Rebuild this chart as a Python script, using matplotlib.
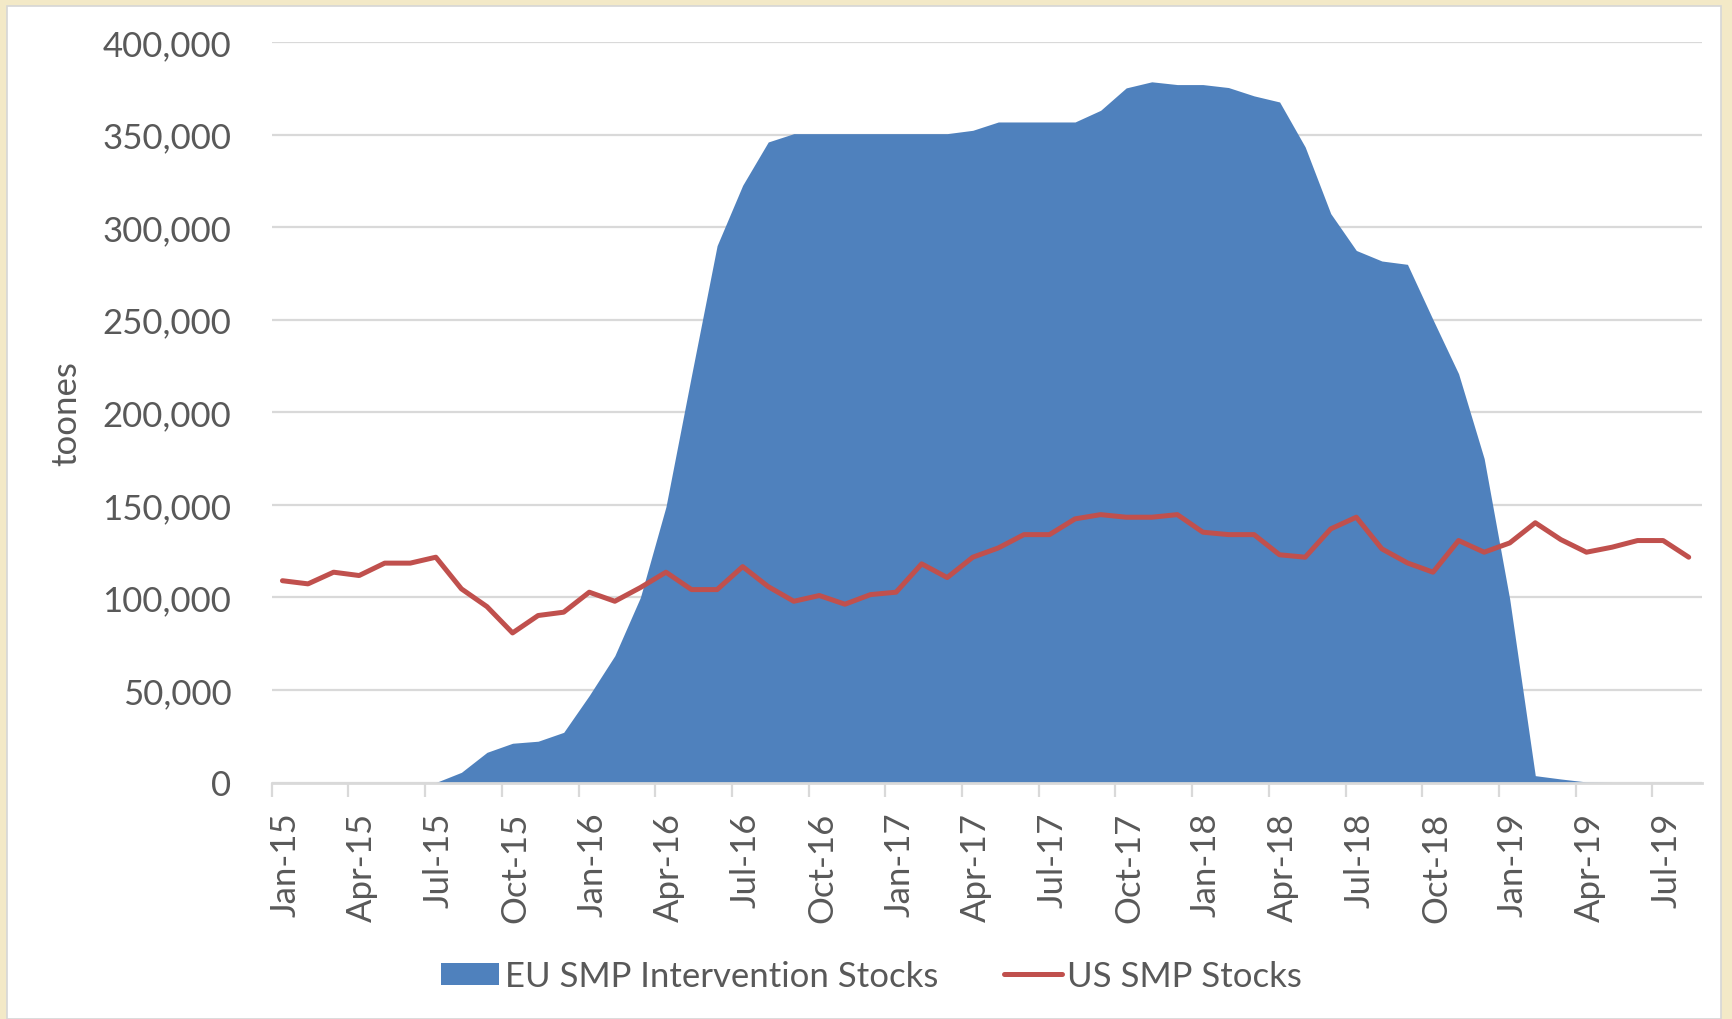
import matplotlib
matplotlib.use("Agg")
import matplotlib.pyplot as plt
from matplotlib.patches import Rectangle
from matplotlib.ticker import FuncFormatter, FixedLocator
import numpy as np

# ---- data ----
eu_stocks = [0, 0, 0, 0, 0, 0,
             0, 5500, 16300, 21200, 22300, 27100, 47000, 68500, 100000,
             149000, 220000, 290000, 322600, 346000, 350500,
             350500, 350500, 350500, 350500, 350500, 350500,
             352300, 356800, 356800, 356800, 356800,
             363100, 375200, 378500, 377000, 377000, 375400, 370900, 367600,
             343300, 307300, 287400, 281700, 279900, 250000, 220800, 175000,
             99000, 3700, 1900, 300,
             0, 0, 0, 0]
us_stocks = [109000, 107300, 113600, 111800, 118500, 118500, 121700, 104600,
             95000, 80800, 90200, 92000, 102800, 97900, 105300, 113600,
             104200, 104200, 116600, 105800, 97900, 101000, 96300, 101500,
             102800, 118100, 110700, 121700, 126700, 133900, 133900, 142400,
             144700, 143300, 143300, 144700, 135200, 133900, 133900, 123000,
             121700, 137000, 143300, 126200, 118600, 113600, 130700, 124400,
             129400, 140300, 131200, 124400, 127100, 130700, 130700, 121700]
tick_labels = ['Jan-15', 'Apr-15', 'Jul-15', 'Oct-15',
               'Jan-16', 'Apr-16', 'Jul-16', 'Oct-16',
               'Jan-17', 'Apr-17', 'Jul-17', 'Oct-17',
               'Jan-18', 'Apr-18', 'Jul-18', 'Oct-18',
               'Jan-19', 'Apr-19', 'Jul-19']
y_ticks = [0, 50000, 100000, 150000, 200000, 250000, 300000, 350000, 400000]
series_names = ['EU SMP Intervention Stocks', 'US SMP Stocks']

FONT = ['Lato', 'DejaVu Sans']
plt.rcParams['font.family'] = FONT
TXT = '#595959'
GRID = '#D9D9D9'
BLUE = '#4F81BD'
RED = '#C0504D'

W, H = 1733, 1020
fig = plt.figure(figsize=(W / 100, H / 100), dpi=100)
fig.patch.set_facecolor('#F3E9C7')
fig.patches.append(Rectangle((7 / W, 0), (1721 - 7) / W, 1 - 7 / H,
                             transform=fig.transFigure, facecolor='white',
                             edgecolor='#D6D6D6', linewidth=1.2, zorder=-5))

left, right = 271.7 / W, 1702 / W
bottom, top = 1 - 783.5 / H, 1 - 43 / H
ax = fig.add_axes([left, bottom, right - left, top - bottom])
ax.set_facecolor('none')
ax.set_zorder(2)

x = np.arange(len(us_stocks))
ax.fill_between(x, 0, eu_stocks, color=BLUE, linewidth=0, zorder=2,
                label=series_names[0])
ax.plot(x, us_stocks, color=RED, linewidth=3.6, solid_joinstyle='round',
        solid_capstyle='round', zorder=3, label=series_names[1])

ax.set_xlim(-0.42, 55.52)
ax.set_ylim(0, 400000)

ax.set_yticks(y_ticks)
ax.yaxis.set_major_formatter(FuncFormatter(lambda v, p: f'{int(v):,}'))
ax.tick_params(axis='y', length=0, pad=29, labelsize=25, labelcolor=TXT)
ax.grid(axis='y', color=GRID, linewidth=1.6, zorder=0)
ax.set_axisbelow(True)

tick_pos = [3 * k - 0.42 for k in range(len(tick_labels))]
label_pos = [3 * k + 0.12 for k in range(len(tick_labels))]
ax.xaxis.set_major_locator(FixedLocator(tick_pos))
ax.xaxis.set_major_formatter(FuncFormatter(lambda v, p: ''))
ax.xaxis.set_minor_locator(FixedLocator(label_pos))
ax.set_xticklabels(tick_labels, minor=True, rotation=90, fontsize=25,
                   color=TXT, va='top', ha='center')
ax.tick_params(axis='x', which='major', length=10, width=1.6, color=GRID,
               direction='out')
ax.tick_params(axis='x', which='minor', length=0, pad=21)

for s in ['top', 'right', 'left']:
    ax.spines[s].set_visible(False)
ax.spines['bottom'].set_color(GRID)
ax.spines['bottom'].set_linewidth(2)
ax.spines['bottom'].set_zorder(4)

fig.text(66 / W, 1 - 414 / H, 'toones', rotation=90, ha='center', va='center',
         fontsize=25, color=TXT)

leg = fig.legend(loc='center', bbox_to_anchor=(0.503, 1 - 977 / H), ncol=2,
                 frameon=False, fontsize=25, handlelength=1.67,
                 handleheight=0.6, handletextpad=0.15, columnspacing=1.9,
                 borderaxespad=0)
leg.set_zorder(3)
for t in leg.get_texts():
    t.set_color(TXT)

fig.savefig('out.png', dpi=100, facecolor=fig.get_facecolor())
